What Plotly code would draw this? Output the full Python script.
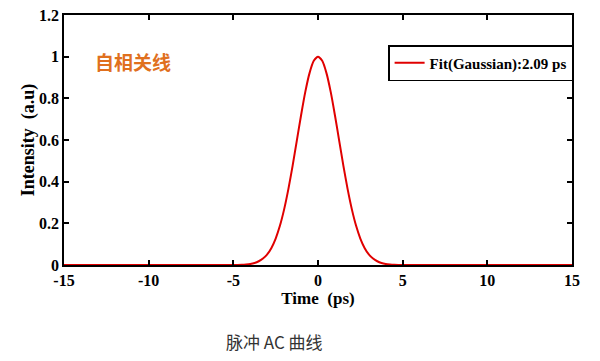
import plotly.graph_objects as go

# (Time in ps, normalised intensity)
time_ps = [-15, -5.0, -4.75, -4.5, -4.25, -4.0, -3.75, -3.5, -3.25, -3.0, -2.75, -2.5, -2.25, -2.0,
           -1.75, -1.5, -1.25, -1.0, -0.75, -0.5, -0.25, 0.0, 0.25, 0.5, 0.75, 1.0, 1.25, 1.5,
           1.75, 2.0, 2.25, 2.5, 2.75, 3.0, 3.25, 3.5, 3.75, 4.0, 4.25, 4.5, 4.75, 5.0, 15]
intensity = [0.0, 0.0003, 0.0006, 0.0012, 0.0026, 0.005, 0.0097, 0.018, 0.031, 0.051, 0.082, 0.127, 0.188, 0.267,
             0.364, 0.476, 0.597, 0.719, 0.831, 0.921, 0.980, 1.0, 0.980, 0.921, 0.831, 0.719, 0.597, 0.476,
             0.364, 0.267, 0.188, 0.127, 0.082, 0.051, 0.031, 0.018, 0.0097, 0.005, 0.0026, 0.0012, 0.0006, 0.0003, 0.0]

x_ticks = [-15, -10, -5, 0, 5, 10, 15]
x_tick_labels = ["-15", "-10", "-5", "0", "5", "10", "15"]
y_ticks = [0, 0.2, 0.4, 0.6, 0.8, 1, 1.2]
y_tick_labels = ["0", "0.2", "0.4", "0.6", "0.8", "1", "1.2"]

serif = "Liberation Serif"

fig = go.Figure()
fig.add_trace(go.Scatter(
    x=time_ps, y=intensity, mode="lines",
    line=dict(color="#E00000", width=2, shape="spline", smoothing=0.6),
    name="<b>Fit(Gaussian):2.09 ps</b>",
))

axis_common = dict(
    showline=True, linecolor="black", linewidth=1.5, mirror="ticks",
    ticks="inside", ticklen=5, tickwidth=1.5, tickcolor="black",
    showgrid=False, zeroline=False, automargin=False, ticklabeloverflow="allow",
    tickfont=dict(family=serif, size=16, color="black", weight="bold"),
)

fig.update_layout(
    width=592, height=353,
    margin=dict(l=56, r=28, t=7, b=96),
    paper_bgcolor="white", plot_bgcolor="white",
    xaxis=dict(range=[-15, 15], tickvals=x_ticks, ticktext=x_tick_labels,
               title=dict(text="<b>Time  (ps)</b>", font=dict(family=serif, size=17, color="black"), standoff=4),
               **axis_common),
    yaxis=dict(range=[0, 1.2], tickvals=y_ticks, ticktext=y_tick_labels,
               title=dict(text="<b>Intensity  (a.u)</b>", font=dict(family=serif, size=18, color="black"), standoff=0),
               **axis_common),
    showlegend=True,
    legend=dict(x=0.638, y=0.88, xanchor="left", yanchor="top",
                bordercolor="black", borderwidth=1.5, bgcolor="white",
                font=dict(family=serif, size=15, color="black"),
                itemwidth=30, tracegroupgap=0),
)

fig.add_annotation(x=-13.3, y=0.975, xref="x", yref="y", xanchor="left", yanchor="middle",
                   text="<b>自相关线</b>", showarrow=False,
                   font=dict(family="Noto Sans CJK SC", size=19, color="#E0701E"))

fig.add_annotation(x=0.415, y=-0.304, xref="paper", yref="paper", xanchor="center", yanchor="middle",
                   text="脉冲 AC 曲线", showarrow=False,
                   font=dict(family="Noto Sans CJK SC", size=17, color="#333333"))

fig.write_html("out.html")
